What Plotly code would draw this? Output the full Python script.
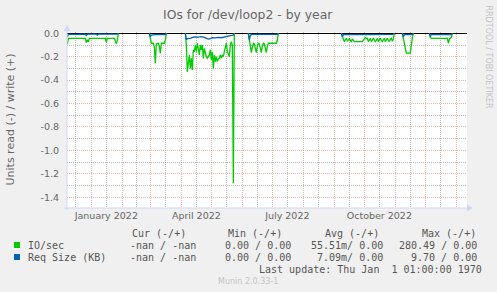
import plotly.graph_objects as go

# ---------------- data (read side is drawn negative) ----------------
io_dates = [
    "2021-12-08", "2021-12-09", "2021-12-26", "2021-12-27", "2021-12-28", "2021-12-29", "2021-12-30",
    "2022-01-15", "2022-01-16", "2022-01-17", "2022-01-24", "2022-01-25", "2022-01-26", "2022-01-27",
    "2022-01-28", "2022-02-10",
    "2022-02-28", "2022-03-01", "2022-03-02", "2022-03-03", "2022-03-04", "2022-03-05", "2022-03-06",
    "2022-03-07", "2022-03-08", "2022-03-09", "2022-03-10", "2022-03-11", "2022-03-12", "2022-03-15",
    "2022-03-16", "2022-03-17", "2022-03-25",
    "2022-04-05", "2022-04-06", "2022-04-07", "2022-04-08", "2022-04-09", "2022-04-10", "2022-04-11",
    "2022-04-12", "2022-04-13", "2022-04-14", "2022-04-15", "2022-04-16", "2022-04-17", "2022-04-18",
    "2022-04-19", "2022-04-20", "2022-04-21", "2022-04-22", "2022-04-23", "2022-04-24", "2022-04-25",
    "2022-04-26", "2022-04-27", "2022-04-28", "2022-04-29", "2022-04-30", "2022-05-01", "2022-05-02",
    "2022-05-03", "2022-05-04", "2022-05-05", "2022-05-06", "2022-05-07", "2022-05-08", "2022-05-09",
    "2022-05-10", "2022-05-11", "2022-05-12", "2022-05-13", "2022-05-14", "2022-05-15", "2022-05-16",
    "2022-05-17", "2022-05-18", "2022-05-19", "2022-05-20", "2022-05-21", "2022-05-22", "2022-05-23",
    "2022-05-24", "2022-05-30",
    "2022-06-07", "2022-06-08", "2022-06-09", "2022-06-10", "2022-06-11", "2022-06-12", "2022-06-13",
    "2022-06-14", "2022-06-15", "2022-06-16", "2022-06-17", "2022-06-18", "2022-06-19", "2022-06-20",
    "2022-06-21", "2022-06-22", "2022-06-23", "2022-06-24", "2022-06-25", "2022-06-26", "2022-06-27",
    "2022-07-05", "2022-07-06", "2022-07-07", "2022-07-15",
    "2022-09-08", "2022-09-09", "2022-09-10", "2022-09-11", "2022-09-12", "2022-09-13", "2022-09-14",
    "2022-09-15", "2022-09-16", "2022-09-17", "2022-09-18", "2022-09-19", "2022-09-20", "2022-09-21",
    "2022-09-29", "2022-09-30", "2022-10-01", "2022-10-02", "2022-10-03", "2022-10-04", "2022-10-05",
    "2022-10-06", "2022-10-07", "2022-10-08", "2022-10-09", "2022-10-10", "2022-10-11", "2022-10-12",
    "2022-10-13", "2022-10-14", "2022-10-15", "2022-10-16", "2022-10-17", "2022-10-18", "2022-10-19",
    "2022-10-20", "2022-10-21", "2022-10-22", "2022-10-23", "2022-10-24", "2022-10-25", "2022-10-26",
    "2022-10-27", "2022-10-28", "2022-10-29", "2022-10-30", "2022-10-31", "2022-11-04",
    "2022-11-08", "2022-11-09", "2022-11-10", "2022-11-11", "2022-11-12", "2022-11-16", "2022-11-17",
    "2022-11-18", "2022-11-19", "2022-11-26",
    "2022-12-05", "2022-12-06", "2022-12-07", "2022-12-23", "2022-12-24", "2022-12-25", "2022-12-26",
    "2022-12-27", "2022-12-28",
]
io_read = [
    -0.095, -0.043, -0.043, -0.080, -0.055, -0.075, -0.043,
    -0.043, -0.078, -0.043, -0.043, -0.070, -0.090, -0.060,
    0.0, None,
    0.0, -0.045, -0.085, -0.085, -0.085, -0.120, -0.256,
    -0.090, -0.085, -0.085, -0.110, -0.170, -0.085, -0.085,
    -0.060, 0.0, None,
    0.0, -0.100, -0.330, -0.240, -0.185, -0.300, -0.214,
    -0.313, -0.142, -0.157, -0.100, -0.157, -0.085, -0.130,
    -0.185, -0.100, -0.142, -0.100, -0.214, -0.128, -0.185,
    -0.200, -0.214, -0.200, -0.185, -0.142, -0.228, -0.157,
    -0.300, -0.185, -0.242, -0.200, -0.242, -0.220, -0.214,
    -0.185, -0.214, -0.185, -0.200, -0.157, -0.114, -0.085,
    -0.157, -0.180, -0.200, -0.100, -0.071, -0.100, -1.280,
    0.0, None,
    0.0, -0.070, -0.120, -0.165, -0.120, -0.085, -0.090,
    -0.130, -0.165, -0.110, -0.085, -0.090, -0.130, -0.165,
    -0.110, -0.085, -0.090, -0.130, -0.165, -0.110, -0.085,
    -0.085, -0.060, 0.0, None,
    0.0, -0.030, -0.043, -0.071, -0.055, -0.043, -0.065,
    -0.055, -0.048, -0.062, -0.071, -0.048, -0.060, -0.071,
    -0.071, -0.060, -0.043, -0.035, -0.043, -0.043, -0.071,
    -0.060, -0.043, -0.071, -0.060, -0.043, -0.055, -0.071,
    -0.060, -0.043, -0.071, -0.055, -0.043, -0.060, -0.071,
    -0.055, -0.043, -0.071, -0.060, -0.043, -0.060, -0.071,
    -0.050, -0.043, -0.068, -0.050, 0.0, None,
    0.0, -0.050, -0.085, -0.130, -0.170, -0.170, -0.085,
    -0.040, 0.0, None,
    0.0, -0.035, -0.043, -0.043, -0.085, -0.050, -0.043,
    -0.035, 0.0,
]

req_dates = [
    "2021-12-08", "2021-12-09", "2021-12-26", "2021-12-27", "2021-12-28", "2022-01-06", "2022-01-07",
    "2022-01-08", "2022-01-27", "2022-01-28", "2022-02-10",
    "2022-02-28", "2022-03-01", "2022-03-02", "2022-03-06", "2022-03-16", "2022-03-17", "2022-03-25",
    "2022-04-05", "2022-04-06", "2022-04-07", "2022-04-10", "2022-04-12", "2022-04-14", "2022-04-18",
    "2022-04-21", "2022-04-24", "2022-04-26", "2022-04-28", "2022-04-30", "2022-05-02", "2022-05-05",
    "2022-05-08", "2022-05-11", "2022-05-14", "2022-05-17", "2022-05-20", "2022-05-22", "2022-05-23",
    "2022-05-24", "2022-05-30",
    "2022-06-07", "2022-06-08", "2022-06-09", "2022-06-10", "2022-07-06", "2022-07-07", "2022-07-15",
    "2022-09-08", "2022-09-09", "2022-09-10", "2022-09-20", "2022-10-05", "2022-10-30", "2022-10-31",
    "2022-11-04",
    "2022-11-08", "2022-11-09", "2022-11-10", "2022-11-18", "2022-11-19", "2022-11-26",
    "2022-12-05", "2022-12-06", "2022-12-07", "2022-12-27", "2022-12-28",
]
req_read = [
    -0.030, -0.010, -0.008, -0.018, -0.008, -0.008, -0.016,
    -0.008, -0.008, 0.0, None,
    0.0, -0.030, -0.015, -0.012, -0.012, 0.0, None,
    0.0, -0.057, -0.045, -0.043, -0.035, -0.030, -0.032,
    -0.028, -0.035, -0.045, -0.050, -0.045, -0.038, -0.040,
    -0.035, -0.038, -0.030, -0.025, -0.020, -0.018, -0.015,
    0.0, None,
    0.0, -0.055, -0.020, -0.010, -0.010, 0.0, None,
    0.0, -0.030, -0.012, -0.010, -0.012, -0.010, 0.0,
    None,
    0.0, -0.030, -0.012, -0.012, 0.0, None,
    0.0, -0.025, -0.012, -0.012, 0.0,
]

x_range = ["2021-12-07 16:00", "2023-01-11 16:00"]
y_range = [-1.492, 0.011]

month_starts = ["2022-%02d-01" % m for m in range(1, 13)] + ["2023-01-01"]
mid_month_ticks = ["2021-12-16", "2022-01-16", "2022-02-15", "2022-03-16", "2022-04-16", "2022-05-16",
                   "2022-06-16", "2022-07-16", "2022-08-16", "2022-09-16", "2022-10-16", "2022-11-16",
                   "2022-12-16"]
mid_month_labels = ["", "January 2022", "", "", "April 2022", "", "", "July 2022", "", "",
                    "October 2022", "", ""]
y_major = [0.0, -0.2, -0.4, -0.6, -0.8, -1.0, -1.2, -1.4]
y_minor = [-0.1, -0.3, -0.5, -0.7, -0.9, -1.1, -1.3]

series_names = ["IO/sec", "Req Size (KB)"]
series_colors = ["#00CC00", "#0066B3"]
cur_vals = ["-nan / -nan", "-nan / -nan"]
min_vals = ["0.00 / 0.00", "0.00 / 0.00"]
avg_vals = ["55.51m/ 0.00", "7.09m/ 0.00"]
max_vals = ["280.49 / 0.00", "9.70 / 0.00"]
col_headers = ["Cur (-/+)", "Min (-/+)", "Avg (-/+)", "Max (-/+)"]

title = "IOs for /dev/loop2 - by year"
y_title = "Units read (-) / write (+)"
last_update = "Last update:\u00a0Thu\u00a0Jan\u00a0\u00a01\u00a001:00:00\u00a01970"
watermark = "Munin 2.0.33-1"
side_text = "RRDTOOL / TOBI OETIKER"

# ---------------- layout helpers (pixel -> paper) ----------------
W, H = 497, 292
L, R, T, B = 67, 30, 32, 84
PW, PH = W - L - R, H - T - B
BOTTOM = H - B


def px(x):
    return (x - L) / PW


def py(y):
    return (BOTTOM - y) / PH


FONT_COL = "#666666"
GRID_COL = "rgba(143,143,143,0.6)"
MGRID_COL = "rgba(232,79,79,0.42)"
AXIS_COL = "#CFD6F8"

fig = go.Figure()
fig.add_trace(go.Scatter(x=io_dates, y=io_read, mode="lines", connectgaps=False,
                         line=dict(color=series_colors[0], width=1.3), hoverinfo="skip"))
fig.add_trace(go.Scatter(x=req_dates, y=req_read, mode="lines", connectgaps=False,
                         line=dict(color=series_colors[1], width=1.3), hoverinfo="skip"))

fig.update_layout(
    width=W, height=H,
    margin=dict(l=L, r=R, t=T, b=B, pad=0),
    paper_bgcolor="#F0F0F0", plot_bgcolor="#FFFFFF",
    showlegend=False,
    xaxis=dict(
        type="date", range=x_range, tickmode="array", tickvals=mid_month_ticks,
        ticktext=mid_month_labels, showgrid=True, gridcolor=GRID_COL, griddash="1px,1px",
        gridwidth=1, showline=False, zeroline=False, ticks="",
        tickfont=dict(family="DejaVu Sans", size=9.5, color=FONT_COL),
        minor=dict(tickmode="array", tickvals=month_starts, showgrid=True,
                   gridcolor=MGRID_COL, griddash="1px,1px", gridwidth=1, ticks=""),
        fixedrange=True,
    ),
    yaxis=dict(
        range=y_range, tickmode="array", tickvals=y_major,
        ticktext=["%.1f" % v for v in y_major], showgrid=True, gridcolor=MGRID_COL,
        griddash="1px,1px", gridwidth=1, showline=False,
        zeroline=True, zerolinecolor="#000000", zerolinewidth=1,
        ticks="outside", ticklen=5, tickcolor="rgba(0,0,0,0)",
        tickfont=dict(family="DejaVu Sans", size=9.5, color=FONT_COL),
        minor=dict(tickmode="array", tickvals=y_minor, showgrid=True,
                   gridcolor=GRID_COL, griddash="1px,1px", gridwidth=1, ticks=""),
        fixedrange=True,
    ),
)

shapes = []
# axis lines with arrows
shapes.append(dict(type="line", xref="paper", yref="paper", x0=px(67), x1=px(67),
                   y0=py(210), y1=py(30), line=dict(color=AXIS_COL, width=1), layer="above"))
shapes.append(dict(type="line", xref="paper", yref="paper", x0=px(64), x1=px(468),
                   y0=py(208), y1=py(208), line=dict(color=AXIS_COL, width=1), layer="above"))
shapes.append(dict(type="path", xref="paper", yref="paper",
                   path="M %f %f L %f %f L %f %f Z" % (px(63.5), py(31), px(70.5), py(31), px(67), py(25)),
                   fillcolor=AXIS_COL, line=dict(width=0), layer="above"))
shapes.append(dict(type="path", xref="paper", yref="paper",
                   path="M %f %f L %f %f L %f %f Z" % (px(467), py(204.5), px(467), py(211.5), px(473), py(208)),
                   fillcolor=AXIS_COL, line=dict(width=0), layer="above"))
# legend colour boxes
for i, c in enumerate(series_colors):
    y0 = 242 + 12 * i
    shapes.append(dict(type="rect", xref="paper", yref="paper", x0=px(14), x1=px(20),
                       y0=py(y0 + 6), y1=py(y0), fillcolor=c, line=dict(width=0)))

ann = []


def text(x, y, s, size=10, family="DejaVu Sans Mono", color="#555555", xanchor="left", angle=0):
    ann.append(dict(x=px(x), y=py(y), xref="paper", yref="paper", text=s, showarrow=False,
                    xanchor=xanchor, yanchor="middle", textangle=angle,
                    font=dict(family=family, size=size, color=color), borderpad=0))


text(248, 14.5, title, size=12.4, family="DejaVu Sans", color=FONT_COL, xanchor="center")
text(9.5, 120, y_title, size=11, family="DejaVu Sans", color=FONT_COL, xanchor="center", angle=-90)
text(488.5, 57, side_text, size=8, family="DejaVu Sans", color="#C4C4C4", xanchor="center", angle=90)
text(248, 281, watermark, size=8, family="DejaVu Sans", color="#C4C4C4", xanchor="center")

# header
for hx, h in zip([187, 283, 380, 477], col_headers):
    text(hx, 233.5, h, xanchor="right")
# rows
for i in range(2):
    yy = 245.5 + 12 * i
    text(27, yy, series_names[i].replace(" ", "\u00a0"))
    text(197, yy, cur_vals[i].replace(" ", "\u00a0"), xanchor="right")
    text(292, yy, min_vals[i].replace(" ", "\u00a0"), xanchor="right")
    text(384, yy, avg_vals[i].replace(" ", "\u00a0"), xanchor="right")
    text(478, yy, max_vals[i].replace(" ", "\u00a0"), xanchor="right")
text(483, 269.7, last_update, xanchor="right")

fig.update_layout(shapes=shapes, annotations=ann)
fig.write_html("out.html", config={"displayModeBar": False})
